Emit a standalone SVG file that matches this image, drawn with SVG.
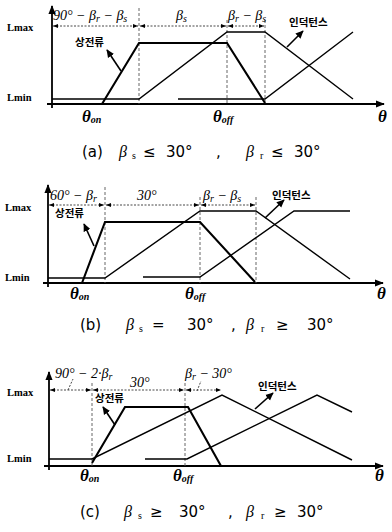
<svg xmlns="http://www.w3.org/2000/svg" width="392" height="532" viewBox="0 0 392 532">
<style>
.ax{fill:none;stroke:#000;stroke-width:1.8}
.cur{fill:none;stroke:#000;stroke-width:2.1;stroke-linejoin:miter}
.ind{fill:none;stroke:#000;stroke-width:1.4}
.dv{fill:none;stroke:#555;stroke-width:0.9;stroke-dasharray:3 2}
.dim{fill:none;stroke:#333;stroke-width:0.9;stroke-dasharray:2 1.5}
.ptr{fill:none;stroke:#000;stroke-width:1.6}
.lm{font-family:"Liberation Serif",serif;font-size:10.5px;font-weight:bold;fill:#000}
.gk{font-family:"Liberation Serif",serif;font-style:italic;font-size:14px;fill:#000}
.th{font-family:"Liberation Serif",serif;font-style:italic;font-weight:bold;font-size:17px;fill:#000}
.sb{font-size:10px}
.ko{font-family:"Noto Sans CJK KR",sans-serif;font-size:10.5px;font-weight:bold;fill:#000}
.cap{font-family:"DejaVu Sans","Noto Sans CJK KR",sans-serif;font-size:15px;fill:#000}
.cb{font-family:"Liberation Serif",serif;font-style:italic;font-size:16px}
.cs{font-family:"Liberation Serif",serif;font-size:10px}
</style>
<defs>
<marker id="axh" viewBox="0 0 10 10" refX="9" refY="5" markerWidth="9" markerHeight="9" orient="auto" markerUnits="userSpaceOnUse"><path d="M0,1 L10,5 L0,9 z" fill="#000"/></marker>
<marker id="dh" viewBox="0 0 10 10" refX="10" refY="5" markerWidth="5" markerHeight="5" orient="auto-start-reverse" markerUnits="userSpaceOnUse"><path d="M0,1 L10,5 L0,9 z" fill="#000"/></marker>
<marker id="ph" viewBox="0 0 10 10" refX="9" refY="5" markerWidth="8" markerHeight="8" orient="auto" markerUnits="userSpaceOnUse"><path d="M0,0.5 L10,5 L0,9.5 z" fill="#000"/></marker>
</defs>

<!-- Panel (a) -->
<g id="panel-a">
  <g id="a-axes">
    <line class="ax" x1="52" y1="108" x2="52" y2="6" marker-end="url(#axh)"/>
    <line class="ax" x1="47" y1="104" x2="384" y2="104" marker-end="url(#axh)"/>
  </g>
  <g id="a-guides">
    <line class="dv" x1="139" y1="8" x2="139" y2="104"/>
    <line class="dv" x1="227" y1="20" x2="227" y2="104"/>
    <line class="dv" x1="265" y1="20" x2="265" y2="104"/>
    <line class="dim" x1="53" y1="26" x2="138" y2="26" marker-start="url(#dh)" marker-end="url(#dh)"/>
    <line class="dim" x1="140" y1="26" x2="226" y2="26" marker-start="url(#dh)" marker-end="url(#dh)"/>
    <line class="dim" x1="228" y1="26" x2="264" y2="26" marker-start="url(#dh)" marker-end="url(#dh)"/>
  </g>
  <g id="a-curves">
    <polyline class="cur" points="102,104 139,43 227,43 265,103"/>
    <polyline class="ind" points="52,99 139,99 227,32 265,32 353,99"/>
    <polyline class="ind" points="178,99 265,99 353,32"/>
  </g>
  <g id="a-pointers">
    <line class="ptr" x1="121" y1="71" x2="107" y2="50" marker-end="url(#ph)"/>
    <line class="ptr" x1="287" y1="47" x2="303" y2="31" marker-end="url(#ph)"/>
  </g>
  <g id="a-labels">
    <text class="lm" x="7" y="31">Lmax</text>
    <text class="lm" x="7" y="101">Lmin</text>
    <text class="gk" x="53" y="20">90° − β<tspan class="sb" dy="2">r</tspan><tspan dy="-2"> − β</tspan><tspan class="sb" dy="2">s</tspan></text>
    <text class="gk" x="176" y="20">β<tspan class="sb" dy="2">s</tspan></text>
    <text class="gk" x="228" y="20">β<tspan class="sb" dy="2">r</tspan><tspan dy="-2"> − β</tspan><tspan class="sb" dy="2">s</tspan></text>
    <text class="ko" x="75" y="46">상전류</text>
    <text class="ko" x="289" y="26">인덕턴스</text>
    <text class="th" x="82" y="122">θ<tspan class="sb" dy="1">on</tspan></text>
    <text class="th" x="213" y="122">θ<tspan class="sb" dy="1">off</tspan></text>
    <text class="th" x="378" y="122">θ</text>
  </g>
  <text class="cap" x="82" y="157">(a) <tspan class="cb" x="119">β</tspan><tspan class="cs" x="132" dy="2">s</tspan><tspan x="143" dy="-2">≤</tspan><tspan x="166">30°</tspan><tspan x="216">,</tspan><tspan class="cb" x="246">β</tspan><tspan class="cs" x="260" dy="2">r</tspan><tspan x="271" dy="-2">≤</tspan><tspan x="294">30°</tspan></text>
</g>

<!-- Panel (b) -->
<g id="panel-b">
  <g id="b-axes">
    <line class="ax" x1="48" y1="287" x2="48" y2="185" marker-end="url(#axh)"/>
    <line class="ax" x1="43" y1="283" x2="383" y2="283" marker-end="url(#axh)"/>
  </g>
  <g id="b-guides">
    <line class="dv" x1="105" y1="187" x2="105" y2="283"/>
    <line class="dv" x1="200" y1="197" x2="200" y2="283"/>
    <line class="dv" x1="256" y1="197" x2="256" y2="283"/>
    <line class="dim" x1="49" y1="205" x2="104" y2="205" marker-start="url(#dh)" marker-end="url(#dh)"/>
    <line class="dim" x1="106" y1="205" x2="199" y2="205" marker-start="url(#dh)" marker-end="url(#dh)"/>
    <line class="dim" x1="201" y1="205" x2="255" y2="205" marker-start="url(#dh)" marker-end="url(#dh)"/>
  </g>
  <g id="b-curves">
    <polyline class="cur" points="82,283 105,222 200,222 255,282"/>
    <polyline class="ind" points="48,278 105,278 200,211 256,211 350,279"/>
    <polyline class="ind" points="143,277 200,277 294,211 350,211"/>
  </g>
  <g id="b-pointers">
    <line class="ptr" x1="94" y1="246" x2="84" y2="224" marker-end="url(#ph)"/>
    <line class="ptr" x1="265" y1="218" x2="284" y2="200" marker-end="url(#ph)"/>
  </g>
  <g id="b-labels">
    <text class="lm" x="5" y="211">Lmax</text>
    <text class="lm" x="5" y="281">Lmin</text>
    <text class="gk" x="50" y="200">60° − β<tspan class="sb" dy="2">r</tspan></text>
    <text class="gk" x="137" y="200">30°</text>
    <text class="gk" x="203" y="200">β<tspan class="sb" dy="2">r</tspan><tspan dy="-2"> − β</tspan><tspan class="sb" dy="2">s</tspan></text>
    <text class="ko" x="55" y="217">상전류</text>
    <text class="ko" x="272" y="199">인덕턴스</text>
    <text class="th" x="70" y="299">θ<tspan class="sb" dy="1">on</tspan></text>
    <text class="th" x="185" y="299">θ<tspan class="sb" dy="1">off</tspan></text>
    <text class="th" x="377" y="299">θ</text>
  </g>
  <text class="cap" x="80" y="330">(b) <tspan class="cb" x="126">β</tspan><tspan class="cs" x="139" dy="2">s</tspan><tspan x="152" dy="-2">=</tspan><tspan x="187">30°</tspan><tspan x="231">,</tspan><tspan class="cb" x="246">β</tspan><tspan class="cs" x="261" dy="2">r</tspan><tspan x="276" dy="-2">≥</tspan><tspan x="307">30°</tspan></text>
</g>

<!-- Panel (c) -->
<g id="panel-c">
  <g id="c-axes">
    <line class="ax" x1="49" y1="470" x2="49" y2="372" marker-end="url(#axh)"/>
    <line class="ax" x1="44" y1="466" x2="383" y2="466" marker-end="url(#axh)"/>
  </g>
  <g id="c-guides">
    <line class="dv" x1="92" y1="383" x2="92" y2="466"/>
    <line class="dv" x1="185" y1="383" x2="185" y2="466"/>
    <line class="dim" x1="50" y1="390" x2="91" y2="390" marker-start="url(#dh)" marker-end="url(#dh)"/>
    <line class="dim" x1="93" y1="390" x2="184" y2="390" marker-start="url(#dh)" marker-end="url(#dh)"/>
    <line class="dim" x1="186" y1="390" x2="221" y2="390" marker-start="url(#dh)" marker-end="url(#dh)"/>
    <line class="dim" x1="68" y1="390" x2="73" y2="379"/>
    <line class="dim" x1="197" y1="391" x2="201" y2="381"/>
  </g>
  <g id="c-curves">
    <polyline class="cur" points="92,463 125,407 188,407 221,466"/>
    <polyline class="ind" points="49,459 92,459 222,395 352,460"/>
    <polyline class="ind" points="145,459 187,459 317,395 352,412"/>
  </g>
  <g id="c-pointers">
    <line class="ptr" x1="115" y1="425" x2="103" y2="407" marker-end="url(#ph)"/>
    <line class="ptr" x1="255" y1="409" x2="273" y2="393" marker-end="url(#ph)"/>
  </g>
  <g id="c-labels">
    <text class="lm" x="7" y="396">Lmax</text>
    <text class="lm" x="7" y="462">Lmin</text>
    <text class="gk" x="55" y="378">90° − 2·β<tspan class="sb" dy="2">r</tspan></text>
    <text class="gk" x="130" y="387">30°</text>
    <text class="gk" x="185" y="378">β<tspan class="sb" dy="2">r</tspan><tspan dy="-2"> − 30°</tspan></text>
    <text class="ko" x="95" y="402">상전류</text>
    <text class="ko" x="258" y="390">인덕턴스</text>
    <text class="th" x="80" y="481">θ<tspan class="sb" dy="1">on</tspan></text>
    <text class="th" x="173" y="481">θ<tspan class="sb" dy="1">off</tspan></text>
    <text class="th" x="375" y="481">θ</text>
  </g>
  <text class="cap" x="80" y="517">(c) <tspan class="cb" x="124">β</tspan><tspan class="cs" x="138" dy="2">s</tspan><tspan x="150" dy="-2">≥</tspan><tspan x="179">30°</tspan><tspan x="228">,</tspan><tspan class="cb" x="246">β</tspan><tspan class="cs" x="261" dy="2">r</tspan><tspan x="274" dy="-2">≥</tspan><tspan x="297">30°</tspan></text>
</g>
</svg>
